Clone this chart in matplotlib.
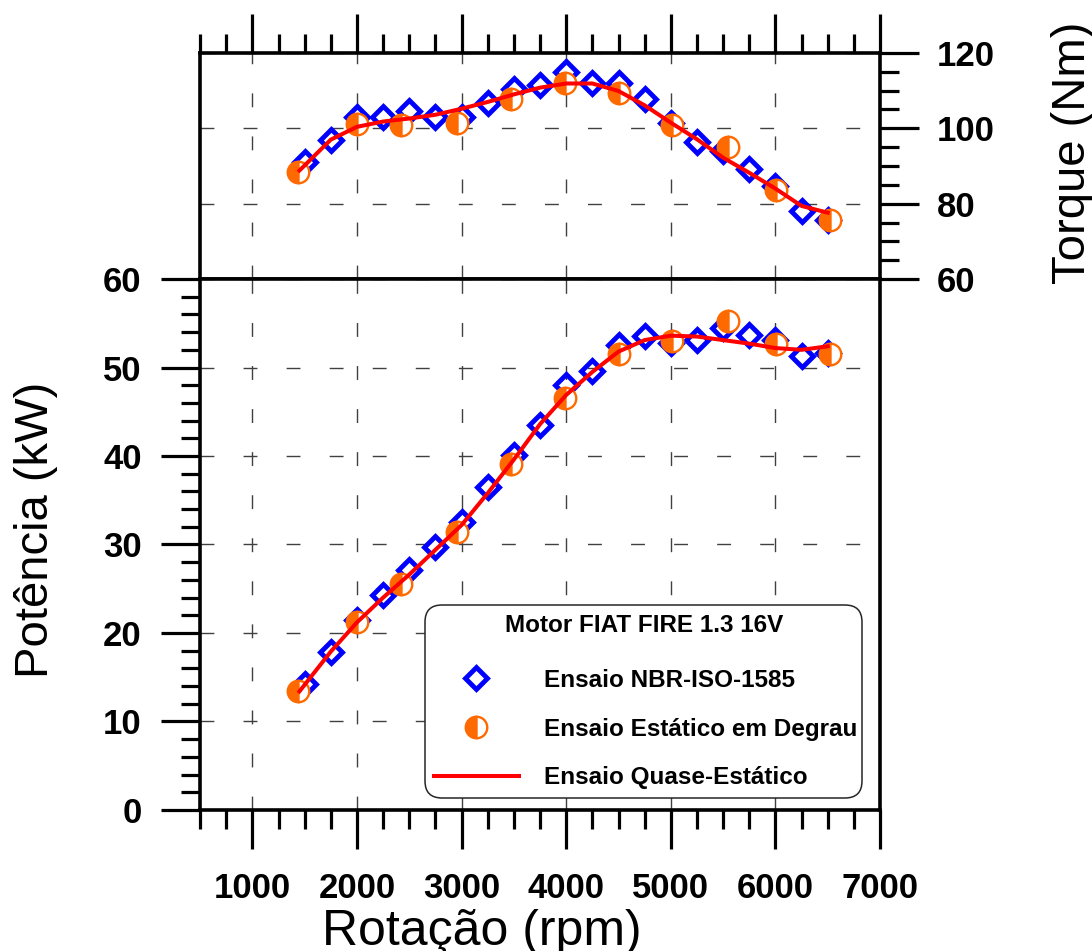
import matplotlib
matplotlib.use('Agg')
import matplotlib.pyplot as plt
from matplotlib.ticker import MultipleLocator
from matplotlib.lines import Line2D

plt.rcParams['font.family'] = ['Liberation Sans', 'DejaVu Sans']
plt.rcParams['lines.scale_dashes'] = False

# Ensaio NBR-ISO-1585
rpm_nbr = [1500, 1750, 2000, 2250, 2500, 2750, 3000, 3250, 3500, 3750, 4000,
           4250, 4500, 4750, 5000, 5250, 5500, 5750, 6000, 6250, 6500]
torque_nbr = [91.1, 96.8, 103.1, 103.1, 104.6, 103.1, 103.1, 106.6, 110.4, 111.4, 114.9,
              111.9, 112.1, 107.9, 101.5, 96.5, 94.0, 89.1, 84.7, 78.1, 75.7]
power_nbr = [14.2, 17.9, 21.5, 24.3, 27.1, 29.7, 32.5, 36.5, 40.1, 43.5, 48.0,
             49.6, 52.5, 53.6, 52.8, 53.1, 54.5, 53.7, 53.1, 51.3, 51.6]

# Ensaio Estático em Degrau
rpm_deg = [1440, 2000, 2420, 2960, 3470, 3990, 4500, 5010, 5550, 6010, 6520]
torque_deg = [88.5, 101.2, 100.8, 101.3, 107.9, 111.9, 109.5, 100.9, 95.0, 83.6, 75.6]
power_deg = [13.4, 21.2, 25.5, 31.4, 39.1, 46.6, 51.5, 53.0, 55.3, 52.7, 51.5]

# Ensaio Quase-Estático
rpm_qs = [1450, 1750, 2000, 2250, 2500, 2750, 3000, 3250, 3500, 3750, 4000,
          4250, 4500, 4750, 5000, 5250, 5500, 5750, 6000, 6250, 6500]
torque_qs = [88.8, 97.0, 100.4, 101.8, 102.6, 103.6, 105.2, 107.0, 109.0, 110.8, 111.9,
             111.9, 109.9, 106.1, 101.5, 97.1, 92.2, 88.2, 84.0, 79.4, 77.6]
power_qs = [13.4, 17.9, 21.2, 24.0, 26.6, 29.4, 32.2, 35.8, 39.6, 43.6, 46.9,
            49.5, 51.8, 53.1, 53.6, 53.5, 53.1, 52.7, 52.2, 52.0, 52.4]

BLUE = '#0000FF'
ORANGE = '#FF6A00'
RED = '#FF0000'

fig = plt.figure(figsize=(10.92, 9.51), dpi=100)
ax_t = fig.add_axes([0.1832, 0.7066, 0.6227, 0.2377])
ax_p = fig.add_axes([0.1832, 0.1483, 0.6227, 0.5583], sharex=ax_t)

grid_kw = dict(color='0.25', lw=1.0, ls=(0, (10, 21)))
diam_kw = dict(ls='none', marker='D', ms=11.5, mfc='none', mec=BLUE, mew=3.5, zorder=3)
circ_kw = dict(ls='none', marker='o', ms=15.5, fillstyle='left', mfc=ORANGE,
               mfcalt='white', mec=ORANGE, mew=1.7, zorder=4)
line_kw = dict(color=RED, lw=2.9, zorder=5)

# torque panel
ax_t.plot(rpm_nbr, torque_nbr, **diam_kw)
ax_t.plot(rpm_deg, torque_deg, **circ_kw)
ax_t.plot(rpm_qs, torque_qs, **line_kw)
ax_t.set_ylim(60, 120)
ax_t.yaxis.set_major_locator(MultipleLocator(20))
ax_t.yaxis.set_minor_locator(MultipleLocator(5))
ax_t.yaxis.tick_right()
ax_t.xaxis.tick_top()
ax_t.tick_params(axis='x', which='both', labeltop=False, labelbottom=False)

# power panel
ax_p.plot(rpm_nbr, power_nbr, **diam_kw)
ax_p.plot(rpm_deg, power_deg, **circ_kw)
ax_p.plot(rpm_qs, power_qs, **line_kw)
ax_p.set_ylim(0, 60)
ax_p.yaxis.set_major_locator(MultipleLocator(10))
ax_p.yaxis.set_minor_locator(MultipleLocator(2))
ax_p.set_xlim(500, 7000)
ax_p.xaxis.set_major_locator(MultipleLocator(1000))
ax_p.xaxis.set_minor_locator(MultipleLocator(250))

for ax in (ax_t, ax_p):
    ax.grid(True, which='major', **grid_kw)
    ax.set_axisbelow(True)
    for s in ax.spines.values():
        s.set_linewidth(2.6)
    ax.tick_params(which='major', direction='out', length=28, width=2.3,
                   labelsize=25)
    ax.tick_params(which='minor', direction='out', length=14, width=2.3)

ax_p.tick_params(axis='x', which='major', pad=17)
ax_p.tick_params(axis='y', which='major', pad=14)
ax_t.tick_params(axis='y', which='major', pad=13)
for lab in ax_p.get_xticklabels() + ax_p.get_yticklabels() + ax_t.get_yticklabels():
    lab.set_fontweight('bold')

# axis titles
fig.text(0.044, 0.4427, 'Potência (kW)', fontsize=34, rotation=90,
         rotation_mode='anchor', ha='center', va='baseline')
fig.text(0.994, 0.8396, 'Torque (Nm)', fontsize=34, rotation=90,
         rotation_mode='anchor', ha='center', va='baseline')
fig.text(0.441, 0.006, 'Rotação (rpm)', fontsize=36, ha='center', va='baseline')

handles = [
    Line2D([], [], **diam_kw),
    Line2D([], [], **circ_kw),
    Line2D([], [], **line_kw),
]
labels = ['Ensaio NBR-ISO-1585', 'Ensaio Estático em Degrau', 'Ensaio Quase-Estático']
leg = ax_p.legend(handles, labels, loc='upper left',
                  bbox_to_anchor=(0.331, 0.386, 0.643, 0.0), mode='expand',
                  title='Motor FIAT FIRE 1.3 16V',
                  title_fontproperties={'weight': 'bold', 'size': 17.5},
                  prop={'weight': 'bold', 'size': 17.5},
                  handlelength=3.5, handletextpad=1.05, labelspacing=1.05,
                  borderpad=0.35, borderaxespad=0.0, framealpha=1.0,
                  fancybox=True, edgecolor='0.15')
# extra room between the legend title and its entries
leg._legend_box.sep = 1.05 * 17.5 + 5
leg.get_frame().set_linewidth(1.1)
leg.get_frame().set_boxstyle('round', pad=0, rounding_size=0.7)
leg.set_zorder(10)

fig.savefig('out.png', dpi=100)
